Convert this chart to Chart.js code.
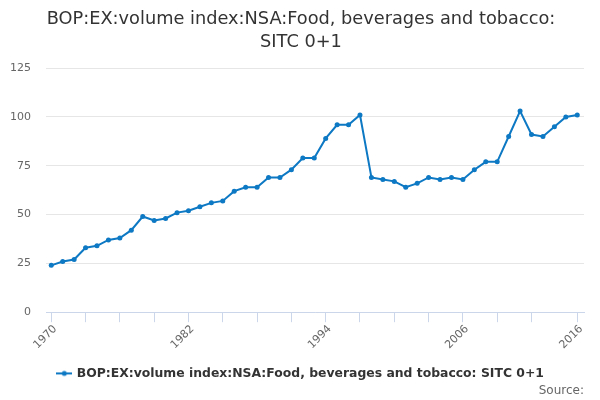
<!DOCTYPE html>
<html>
<head>
<meta charset="utf-8">
<script src="https://cdn.jsdelivr.net/npm/chart.js@4.4.1/dist/chart.umd.min.js"></script>
<style>
  html, body { margin: 0; padding: 0; background: #fff; }
  #wrap { width: 600px; height: 400px; }
</style>
</head>
<body>
<div id="wrap"><canvas id="bopChart"></canvas></div>
<script>
const years = [1970, 1971, 1972, 1973, 1974, 1975, 1976, 1977, 1978, 1979,
  1980, 1981, 1982, 1983, 1984, 1985, 1986, 1987, 1988, 1989,
  1990, 1991, 1992, 1993, 1994, 1995, 1996, 1997, 1998, 1999,
  2000, 2001, 2002, 2003, 2004, 2005, 2006, 2007, 2008, 2009,
  2010, 2011, 2012, 2013, 2014, 2015, 2016];
const values = [24, 26, 27, 33, 34, 37, 38, 42, 49, 47,
  48, 51, 52, 54, 56, 57, 62, 64, 64, 69,
  69, 73, 79, 79, 89, 96, 96, 101, 69, 68,
  67, 64, 66, 69, 68, 69, 68, 73, 77, 77,
  90, 103, 91, 90, 95, 100, 101];
const xTickYears = [1970, 1973, 1976, 1979, 1982, 1985, 1988, 1991, 1994, 1997,
  2000, 2003, 2006, 2009, 2012, 2016];
const xLabelYears = [1970, 1982, 1994, 2006, 2016];
const yTicks = [0, 25, 50, 75, 100, 125];
const seriesName = 'BOP:EX:volume index:NSA:Food, beverages and tobacco: SITC 0+1';
const titleLines = ['BOP:EX:volume index:NSA:Food, beverages and tobacco:', 'SITC 0+1'];

const blue = '#0d78c3';
const font = 'DejaVu Sans';

// little line-with-dot marker for the legend
function legendSymbol(color) {
  const c = document.createElement('canvas');
  c.width = 16; c.height = 8;
  const g = c.getContext('2d');
  g.strokeStyle = color;
  g.lineWidth = 2;
  g.beginPath(); g.moveTo(0, 4); g.lineTo(16, 4); g.stroke();
  g.fillStyle = color;
  g.beginPath(); g.arc(8, 4, 2.5, 0, Math.PI * 2); g.fill();
  return c;
}

// year labels drawn at the x scale's own pixels, rotated 45deg, so the
// first one can hang under the y labels instead of pushing the plot right
const xLabelPlugin = {
  id: 'xLabels',
  afterLayout(chart) {
    // centre title and legend on the whole canvas, not on the padded box
    if (chart.titleBlock) chart.titleBlock.left += 8;
    if (chart.legend) chart.legend.left += 8;
  },
  afterDraw(chart) {
    const xs = chart.scales.x;
    const g = chart.ctx;
    g.save();
    g.fillStyle = '#666';
    g.font = '11px "' + font + '"';
    g.textAlign = 'right';
    g.textBaseline = 'middle';
    xLabelYears.forEach(yr => {
      g.save();
      g.translate(xs.getPixelForValue(yr) + 4, xs.top + 15);
      g.rotate(-Math.PI / 4);
      g.fillText(String(yr), 0, 0);
      g.restore();
    });
    g.restore();
  }
};

const ctx = document.getElementById('bopChart').getContext('2d');
new Chart(ctx, {
  type: 'line',
  data: {
    datasets: [{
      label: seriesName,
      data: years.map((y, i) => ({ x: y, y: values[i] })),
      borderColor: blue,
      backgroundColor: blue,
      borderWidth: 2,
      pointRadius: 2.5,
      pointHoverRadius: 3,
      pointBorderWidth: 0,
      tension: 0,
      fill: false
    }]
  },
  options: {
    responsive: true,
    maintainAspectRatio: false,
    animation: false,
    layout: { padding: { left: 10, right: 16, top: 0, bottom: 2 } },
    plugins: {
      title: {
        display: true,
        text: titleLines,
        color: '#333',
        font: { family: font, size: 17.75, weight: 'normal', lineHeight: 1.3 },
        padding: { top: 8, bottom: 14 }
      },
      subtitle: {
        display: true,
        text: 'Source:',
        position: 'bottom',
        align: 'end',
        color: '#666',
        font: { family: font, size: 12, weight: 'normal' },
        padding: { top: -6, bottom: 0 }
      },
      legend: {
        display: true,
        position: 'bottom',
        labels: {
          usePointStyle: true,
          pointStyle: legendSymbol(blue),
          color: '#333',
          font: { family: font, size: 12.4, weight: 'bold' },
          padding: 0
        }
      },
      tooltip: { enabled: false }
    },
    scales: {
      x: {
        type: 'linear',
        min: 1969.54,
        max: 2016.59,
        afterBuildTicks: axis => { axis.ticks = xTickYears.map(v => ({ value: v })); },
        afterFit: axis => { axis.height = 55; },
        ticks: { display: false },
        grid: { drawOnChartArea: false, drawTicks: true, tickLength: 10, color: '#ccd6eb' },
        border: { color: '#ccd6eb', width: 1 }
      },
      y: {
        min: 0,
        max: 125,
        afterBuildTicks: axis => { axis.ticks = yTicks.map(v => ({ value: v })); },
        afterFit: axis => { axis.width = 36; },
        ticks: {
          color: '#666',
          font: { family: font, size: 11 },
          padding: 15
        },
        grid: { color: '#e6e6e6', drawTicks: false },
        border: { display: false }
      }
    }
  },
  plugins: [xLabelPlugin]
});
</script>
</body>
</html>
